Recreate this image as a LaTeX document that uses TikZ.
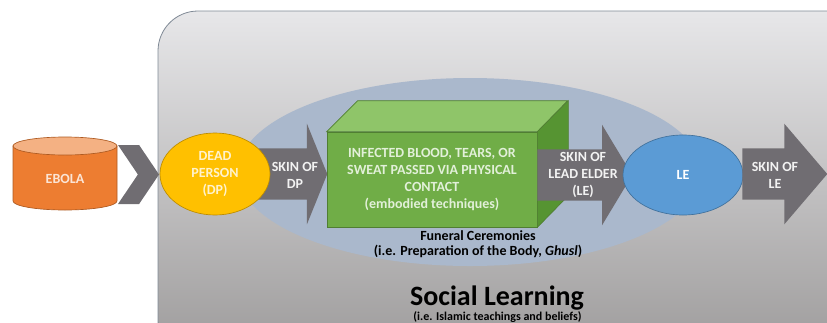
\documentclass[tikz,border=0pt]{standalone}
\usepackage{fontspec}
\setmainfont{Carlito}
\usetikzlibrary{shapes,arrows,positioning}
\definecolor{paneltop}{RGB}{231,231,233}
\definecolor{panelbot}{RGB}{156,154,154}
\definecolor{panelrim}{RGB}{128,138,150}
\definecolor{funeral}{RGB}{170,184,204}
\definecolor{arrowgray}{RGB}{112,109,114}
\definecolor{ebolabody}{RGB}{237,125,49}
\definecolor{ebolatop}{RGB}{244,177,131}
\definecolor{ebolarim}{RGB}{174,90,33}
\definecolor{ebolatext}{RGB}{251,229,214}
\definecolor{dpfill}{RGB}{255,192,0}
\definecolor{dprim}{RGB}{188,140,0}
\definecolor{dptext}{RGB}{255,242,204}
\definecolor{boxfront}{RGB}{112,173,71}
\definecolor{boxtop}{RGB}{143,197,105}
\definecolor{boxside}{RGB}{86,148,50}
\definecolor{boxrim}{RGB}{80,126,50}
\definecolor{boxtext}{RGB}{226,240,217}
\definecolor{lefill}{RGB}{91,155,213}
\definecolor{lerim}{RGB}{65,113,156}

\tikzset{
  txt/.style={font=\bfseries\fontsize{10.5}{12.75}\selectfont, align=center, inner sep=0pt},
  blockarrow/.style={single arrow, draw=none, fill=arrowgray, inner xsep=0pt, inner ysep=19.1pt,
    single arrow head extend=18.4pt, anchor=tail},
  arrowtext/.style={txt, text=white!95!black},
}

\begin{document}
\begin{tikzpicture}[x=0.75pt, y=-0.75pt]
  \useasboundingbox (0,0) rectangle (827,322);
  % social learning panel, runs off the page on the right and bottom
  \shade[top color=paneltop, bottom color=panelbot, draw=panelrim, line width=0.6pt, rounded corners=30pt]
    (158,11) rectangle (870,360);
  \node[ellipse, fill=funeral, minimum width=348pt, minimum height=141pt, inner sep=0pt] (funeral) at (470,172) {};

  % ebola source drum and chevron
  \filldraw[fill=ebolabody, draw=ebolarim, line width=0.5pt]
    (13,146) -- (13,201) arc[start angle=180, end angle=360, x radius=39pt, y radius=6.75pt] -- (117,146) -- cycle;
  \filldraw[fill=ebolatop, draw=ebolarim, line width=0.5pt] (65,146) ellipse [x radius=39pt, y radius=6.75pt];
  \node[txt, text=ebolatext] (ebola) at (65,179) {EBOLA};
  \node[signal, signal to=east, signal from=west, signal pointer angle=112, fill=arrowgray,
        minimum width=30.75pt, minimum height=44.25pt, inner sep=0pt] (chev) at (138.5,174.5) {};

  % skin of dead person
  \node[blockarrow, minimum height=51.75pt, single arrow tip angle=136] (skindp) at (258,174) {};
  \node[ellipse, fill=dpfill, draw=dprim, line width=0.5pt, minimum width=82.5pt, minimum height=61.5pt,
        txt, text=dptext] (dp) at (215,174) {DEAD\\PERSON\\(DP)};
  \node[arrowtext] (skindptxt) at (295,175) {SKIN OF\\DP};

  % contact box
  \node[rectangle, fill=boxfront, draw=boxrim, line width=0.5pt, minimum width=157.5pt, minimum height=71.25pt,
        inner sep=0pt] (contact) at (432,179.5) {};
  \filldraw[fill=boxtop, draw=boxrim, line width=0.5pt]
    (contact.north west) -- ++(31,-31) -- ++(210,0) -- (contact.north east) -- cycle;
  \filldraw[fill=boxside, draw=boxrim, line width=0.5pt]
    (contact.north east) -- ++(31,-31) -- ++(0,95) -- (contact.south east) -- cycle;
  \node[txt, text=boxtext] (contacttxt) at (contact.center)
    {INFECTED BLOOD, TEARS, OR\\SWEAT PASSED VIA PHYSICAL\\CONTACT\\(embodied techniques)};

  % skin of lead elder
  \node[blockarrow, minimum height=71.25pt, single arrow tip angle=118] (skinle) at (537,175) {};
  \node[ellipse, fill=lefill, draw=lerim, line width=0.5pt, minimum width=90pt, minimum height=60pt,
        txt, text=white] (le) at (683,175) {LE};
  \node[arrowtext] (skinletxt) at (583,175) {SKIN OF\\LEAD ELDER\\(LE)};

  \node[blockarrow, minimum height=63.75pt, single arrow tip angle=99] (skinout) at (742,174) {};
  \node[arrowtext] (skinouttxt) at (775,175) {SKIN OF\\LE};

  % captions
  \node[txt, font=\bfseries\fontsize{10.5}{11.25}\selectfont, anchor=base] (rites) at (478,255)
    {Funeral Ceremonies\\(i.e. Preparation of the Body, \textit{Ghusl})};
  \node[txt, font=\bfseries\fontsize{21}{21}\selectfont, anchor=base] (social) at (497,305) {Social Learning};
  \node[txt, font=\bfseries\fontsize{9}{9}\selectfont, anchor=base] (teach) at (497.5,320)
    {(i.e. Islamic teachings and beliefs)};
\end{tikzpicture}
\end{document}
